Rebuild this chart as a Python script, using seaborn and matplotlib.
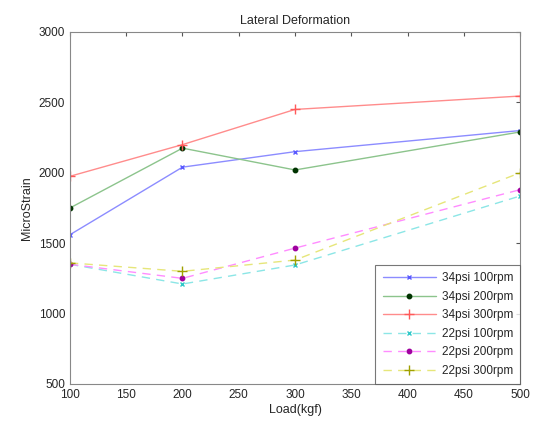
import matplotlib
matplotlib.use("Agg")
import matplotlib.pyplot as plt
import seaborn as sns
import pandas as pd

loads = [100, 200, 300, 500]
s34_100 = [1560, 2040, 2150, 2300]
s34_200 = [1750, 2175, 2020, 2290]
s34_300 = [1975, 2200, 2450, 2545]
s22_100 = [1350, 1210, 1345, 1835]
s22_200 = [1350, 1250, 1465, 1880]
s22_300 = [1360, 1300, 1380, 2000]
labels = ["34psi 100rpm", "34psi 200rpm", "34psi 300rpm",
          "22psi 100rpm", "22psi 200rpm", "22psi 300rpm"]
series = [s34_100, s34_200, s34_300, s22_100, s22_200, s22_300]

sns.set_style("white")
plt.rcParams['font.family'] = ['Liberation Sans', 'DejaVu Sans']

line_colors = ['#8c8cff', '#8cc48c', '#ff8c8c', '#8ce6e6', '#ff8cff', '#e6e67a']
mk_colors = ['#5a5aff', '#003300', '#ff5a5a', '#30c8c8', '#a000a0', '#a0a000']
markers = ['x', 'o', '+', 'x', 'o', '+']
msizes = [3.5, 3.2, 7, 3.5, 3.2, 7]
styles = ['-', '-', '-', '--', '--', '--']

fig = plt.figure(figsize=(5.34, 4.21), dpi=100)
ax = fig.add_axes([0.131, 0.088, 0.843, 0.836])

for lab, vals, lc, mc, mk, ms, ls in zip(labels, series, line_colors, mk_colors, markers, msizes, styles):
    df = pd.DataFrame({"Load": loads, "Strain": vals})
    sns.lineplot(data=df, x="Load", y="Strain", ax=ax, color=lc,
                 marker=mk, markersize=ms, markeredgewidth=1.0,
                 markerfacecolor=mc, markeredgecolor=mc, linewidth=1.0,
                 label=lab)
    if ls == '--':
        ax.lines[-1].set_dashes((6, 4.5))

ax.set_xlim(100, 500)
ax.set_ylim(500, 3000)
ax.set_xticks(range(100, 501, 50))
ax.set_yticks(range(500, 3001, 500))
ax.tick_params(direction='in', top=True, right=True, labelsize=8.5, length=3, color='#555555')
for sp in ax.spines.values():
    sp.set_color('#888888')
    sp.set_linewidth(0.8)
ax.set_xlabel("Load(kgf)", fontsize=9, labelpad=2)
ax.set_ylabel("MicroStrain", fontsize=9, labelpad=4)
ax.set_title("Lateral Deformation", fontsize=9, pad=6)
leg = ax.legend(loc='lower right', fontsize=8.5, frameon=True, fancybox=False,
                edgecolor='#555555', borderaxespad=0.0, handlelength=4.5,
                labelspacing=0.55, borderpad=0.6, handletextpad=0.5)
leg.get_frame().set_linewidth(0.8)
fig.savefig("out.png", dpi=100)
